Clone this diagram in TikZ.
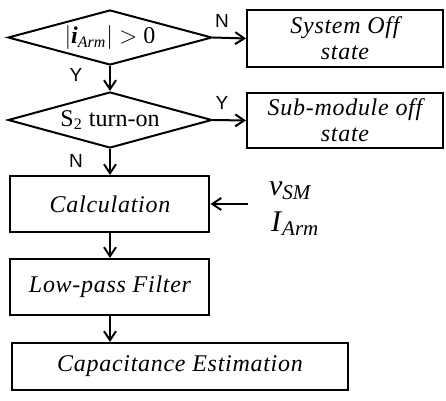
\documentclass[tikz,border=0pt]{standalone}
\usepackage{fontspec}
\setmainfont{Liberation Serif}
\newfontfamily\ynfont{Liberation Sans}
\usetikzlibrary{shapes.geometric,arrows.meta}

\begin{document}
\begin{tikzpicture}[x=0.5pt,y=-0.5pt,
        decision/.style={draw, line width=1pt, diamond, aspect=3.7, inner sep=0pt,
            minimum width=102pt, minimum height=27.5pt, font=\fontsize{12}{14}\selectfont},
        stepbox/.style={draw, line width=1pt, rectangle, inner sep=0pt, align=center,
            minimum width=99.5pt, minimum height=28pt,
            font=\fontsize{12}{13}\selectfont\itshape\addfontfeature{LetterSpace=3}},
        flow/.style={-{Straight Barb[length=4.5pt,width=6pt]}, line width=1pt},
        yn/.style={font=\ynfont\fontsize{9.5}{11}\selectfont}]
        \useasboundingbox (0,0) rectangle (446,401);

        % Decisions
        \node[decision] (armcheck) at (110,37.5) {$|$\textbf{\textit{i}}\textsubscript{\textit{Arm}}$|$ $>$ 0};
        \node[decision, minimum height=28pt] (swcheck) at (110,120) {S\textsubscript{2} turn-on};

        % Off states
        \node[stepbox, minimum width=98pt, minimum height=28.5pt] (sysoff) at (345,38.5) {System Off\\state};
        \node[stepbox, minimum width=98pt, minimum height=27.5pt] (smoff) at (345,120.5) {Sub-module off\\state};

        % Estimation chain
        \node[stepbox] (calc) at (110,204) {Calculation};
        \node[stepbox] (lpf) at (110,287) {Low-pass Filter};
        \node[stepbox, minimum width=168pt, minimum height=23.5pt] (capest) at (180,366.5) {Capacitance Estimation};

        % Measured inputs
        \coordinate (meas) at (248,204);
        \node[anchor=west, font=\fontsize{15}{16}\selectfont] (vsm) at (262,191) {\textit{v}\textsubscript{\textit{SM}}};
        \node[anchor=west, font=\fontsize{15}{16}\selectfont] (iarm) at (264,224) {\textit{I}\textsubscript{\textit{Arm}}};

        % Connections
        \draw[flow] (armcheck.east) -- (sysoff.west);
        \draw[flow] (armcheck.south) -- (swcheck.north);
        \draw[flow] (swcheck.east) -- (smoff.west);
        \draw[flow] (swcheck.south) -- (calc.north);
        \draw[flow] (calc.south) -- (lpf.north);
        \draw[flow] (lpf.south) -- (lpf.south |- capest.north);
        \draw[flow] (meas) -- (calc.east);

        % Branch labels
        \node[yn] (no1) at (222,21) {N};
        \node[yn] (yes1) at (76,75) {Y};
        \node[yn] (yes2) at (222,103) {Y};
        \node[yn] (no2) at (76,161) {N};
    \end{tikzpicture}
\end{document}
